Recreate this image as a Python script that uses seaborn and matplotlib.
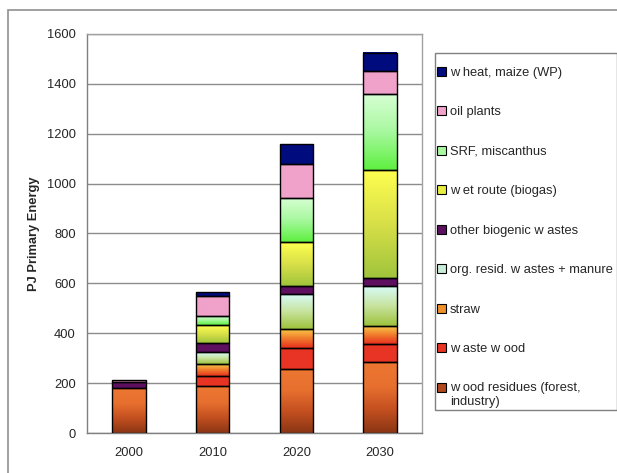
import numpy as np
import pandas as pd
import matplotlib
matplotlib.use('Agg')
import matplotlib.pyplot as plt
from matplotlib.colors import LinearSegmentedColormap
from matplotlib.patches import Patch, Rectangle
import seaborn as sns

years = ['2000', '2010', '2020', '2030']

# stacked from bottom to top
wood_residues = [180, 187, 257, 283]
waste_wood = [0, 42, 83, 73]
straw = [0, 47, 76, 72]
org_resid = [0, 48, 141, 163]
other_biogenic = [24, 36, 34, 29]
wet_route = [0, 72, 174, 435]
srf_miscanthus = [0, 39, 179, 305]
oil_plants = [8, 80, 133, 91]
wheat_maize = [0, 16, 80, 73]

labels = ['w ood residues (forest,\nindustry)', 'w aste w ood', 'straw',
          'org. resid. w astes + manure', 'other biogenic w astes',
          'w et route (biogas)', 'SRF, miscanthus', 'oil plants',
          'w heat, maize (WP)']
series = [wood_residues, waste_wood, straw, org_resid, other_biogenic,
          wet_route, srf_miscanthus, oil_plants, wheat_maize]

# bottom -> top colours of each segment (vertical gradients like Excel fills)
grads = [
    ['#8A3514', '#C45020', '#E8702F', '#EC7632'],
    ['#E83424', '#E83424'],
    ['#E8301E', '#F07A2C', '#F8C848'],
    ['#9EC23C', '#C8E4A0', '#D8FCFC'],
    ['#5E1060', '#5E1060'],
    ['#A0C43C', '#D8E048', '#FFFF50'],
    ['#5EF040', '#A8F8A0', '#D8FFD4'],
    ['#F0A2CA', '#F0A2CA'],
    ['#000C7E', '#000C7E'],
]
legend_cols = ['#B04A1E', '#E83424', '#F0902C', '#C8ECD8', '#5E1060',
               '#E8EC40', '#A8F8A0', '#F0A2CA', '#000C7E']

sns.set_style('white')
plt.rcParams['font.family'] = ['Liberation Sans', 'DejaVu Sans']

fig = plt.figure(figsize=(6.17, 4.73), dpi=100)
ax = fig.add_axes([87 / 617, 1 - 433 / 473, 335 / 617, 399 / 473])

bottom = np.zeros(len(years))
for vals, g in zip(series, grads):
    df = pd.DataFrame({'year': years, 'value': vals})
    sns.barplot(data=df, x='year', y='value', bottom=bottom, width=0.4,
                color=g[0], edgecolor='black', linewidth=1.0,
                errorbar=None, ax=ax, zorder=3)
    cont = ax.containers[-1]
    cmap = LinearSegmentedColormap.from_list('g', g)
    for p in cont.patches:
        h = p.get_height()
        if h <= 0:
            p.set_visible(False)
            continue
        x0, y0, w = p.get_x(), p.get_y(), p.get_width()
        p.set_facecolor('none')
        ax.imshow(np.linspace(0, 1, 128).reshape(-1, 1), cmap=cmap,
                  extent=[x0, x0 + w, y0, y0 + h], origin='lower',
                  aspect='auto', zorder=2.5, interpolation='bilinear')
    bottom = bottom + np.array(vals)

ax.set_xlim(-0.5, 3.5)
ax.set_ylim(0, 1600)
ax.set_yticks(range(0, 1601, 200))
ax.set_xticks([0, 1, 2, 3])
ax.set_xticklabels(years)
ax.set_xticks([-0.5, 0.5, 1.5, 2.5, 3.5], minor=True)
ax.tick_params(axis='x', which='major', length=0, pad=10, labelsize=9.3)
ax.tick_params(axis='x', which='minor', length=4, direction='out',
               color='#808080', width=1)
ax.tick_params(axis='y', length=5, direction='out', color='#808080',
               width=1, labelsize=9.3, pad=3)
ax.yaxis.grid(True, color='#8C8C8C', linewidth=1)
ax.set_axisbelow(True)
for side in ['top', 'right', 'bottom']:
    ax.spines[side].set_color('#A0A0A0')
    ax.spines[side].set_linewidth(1)
ax.spines['left'].set_color('#808080')
ax.spines['left'].set_linewidth(1)
ax.spines['bottom'].set_color('#808080')
ax.set_xlabel('')
ax.set_ylabel('PJ Primary Energy', fontsize=9.3, fontweight='bold', labelpad=5)

# legend (top entry first)
handles = [Patch(facecolor=c, edgecolor='black', linewidth=0.8)
           for c in legend_cols[::-1]]
leg = fig.legend(handles, labels[::-1], loc='upper left',
                 bbox_to_anchor=(437 / 617, 1 - 67 / 473), frameon=False,
                 fontsize=9.3, handlelength=0.7, handleheight=0.7,
                 handletextpad=0.3, labelspacing=2.12, borderpad=0,
                 borderaxespad=0)
# two-line entry: keep its marker beside the first line
last = leg.legend_handles[-1]
last.set_y(last.get_y() + 5.5)
fig.patches.append(Rectangle((435 / 617, 1 - 410 / 473), 182 / 617, 357 / 473,
                             transform=fig.transFigure, facecolor='none',
                             edgecolor='#808080', linewidth=1))

# outer chart border
fig.patches.append(Rectangle((8 / 617, -0.1), 1.2, 1 - 10 / 473 + 0.1,
                             transform=fig.transFigure, facecolor='none',
                             edgecolor='#909090', linewidth=1.2))

fig.savefig('out.png', dpi=100)
